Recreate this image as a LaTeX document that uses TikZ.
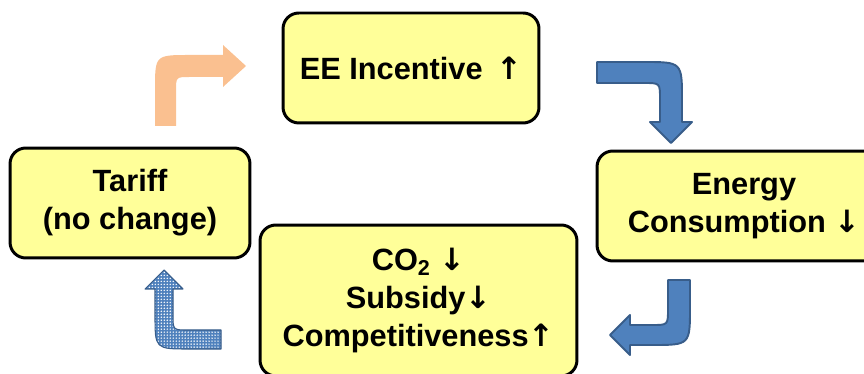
\documentclass[tikz,border=0pt]{standalone}
\usepackage{fontspec}
\setmainfont{Liberation Sans}
\newfontfamily\arrowfont{DejaVu Sans}
\usetikzlibrary{patterns.meta}
\definecolor{boxfill}{RGB}{255,255,153}
\definecolor{arrblue}{RGB}{79,129,189}
\definecolor{arredge}{RGB}{56,93,138}
\definecolor{arrorange}{RGB}{250,192,144}
\tikzdeclarepattern{
  name=fine dots,
  type=uncolored,
  bottom left={(-.5pt,-.5pt)},
  top right={(.5pt,.5pt)},
  tile size={(1.7pt,1.7pt)},
  code={\pgfpathcircle{\pgfpointorigin}{.45pt}\pgfusepath{fill}}
}
\newcommand{\up}{{\arrowfont ↑}}
\newcommand{\down}{{\arrowfont ↓}}
\tikzset{box/.style={draw=black,line width=1.7pt,fill=boxfill,rounded corners=9pt,align=center}}
\tikzset{bluearr/.style={draw=arredge,line width=1.1pt,fill=arrblue,line join=round}}

\begin{document}
\begin{tikzpicture}[x=0.02cm,y=-0.02cm]
        \useasboundingbox (0,0) rectangle (864,374);
        \clip (0,0) rectangle (864,374);
        % the four boxes
        \begin{scope}[font=\bfseries\fontsize{17.5}{21.5}\selectfont]
          \node[box,minimum width=51.2mm,minimum height=22mm] (EE) at (411,68) {EE Incentive \,\up};
          \node[box,minimum width=58.8mm,minimum height=22mm] (EC) at (744,206) {Energy\\Consumption \down};
          \node[box,minimum width=63.4mm,minimum height=30.2mm] (CO) at (418.5,300.5)
            {CO\textsubscript{2} \down\\Subsidy\down\\Competitiveness\up};
          \node[box,minimum width=48mm,minimum height=22mm] (T) at (130,203) {Tariff\\(no change)};
        \end{scope}
        % bent arrows round the loop
        \fill[arrorange](155,126)--(155,90) .. controls (155,55) .. (190,55)--(223,55)--(223,45)--(246,66)
          --(223,87)--(223,77)--(190,77) .. controls (176,77) .. (176,91)--(176,126)--cycle;
        \filldraw[bluearr](597,62)--(644,62) .. controls (682,62) .. (682,100)--(682,122)--(692,122)--(671,143)
          --(650,122)--(660,122)--(660,99) .. controls (660,83) .. (644,83)--(597,83)--cycle;
        \filldraw[bluearr](668,280)--(690,280)--(690,307) .. controls (690,345) .. (652,345)--(630,345)--(630,355)
          --(610,335)--(630,315)--(630,325)--(652,325) .. controls (668,325) .. (668,309)--cycle;
        \filldraw[bluearr,line width=.6pt,preaction={fill=arrblue},pattern=fine dots,pattern color=white]
          (221,330)--(221,349)--(189,349) .. controls (155,349) .. (155,315)--(155,289)--(145,289)--(164,270)
          --(183,289)--(173,289)--(173,315) .. controls (173,330) .. (188,330)--cycle;
      \end{tikzpicture}
\end{document}
